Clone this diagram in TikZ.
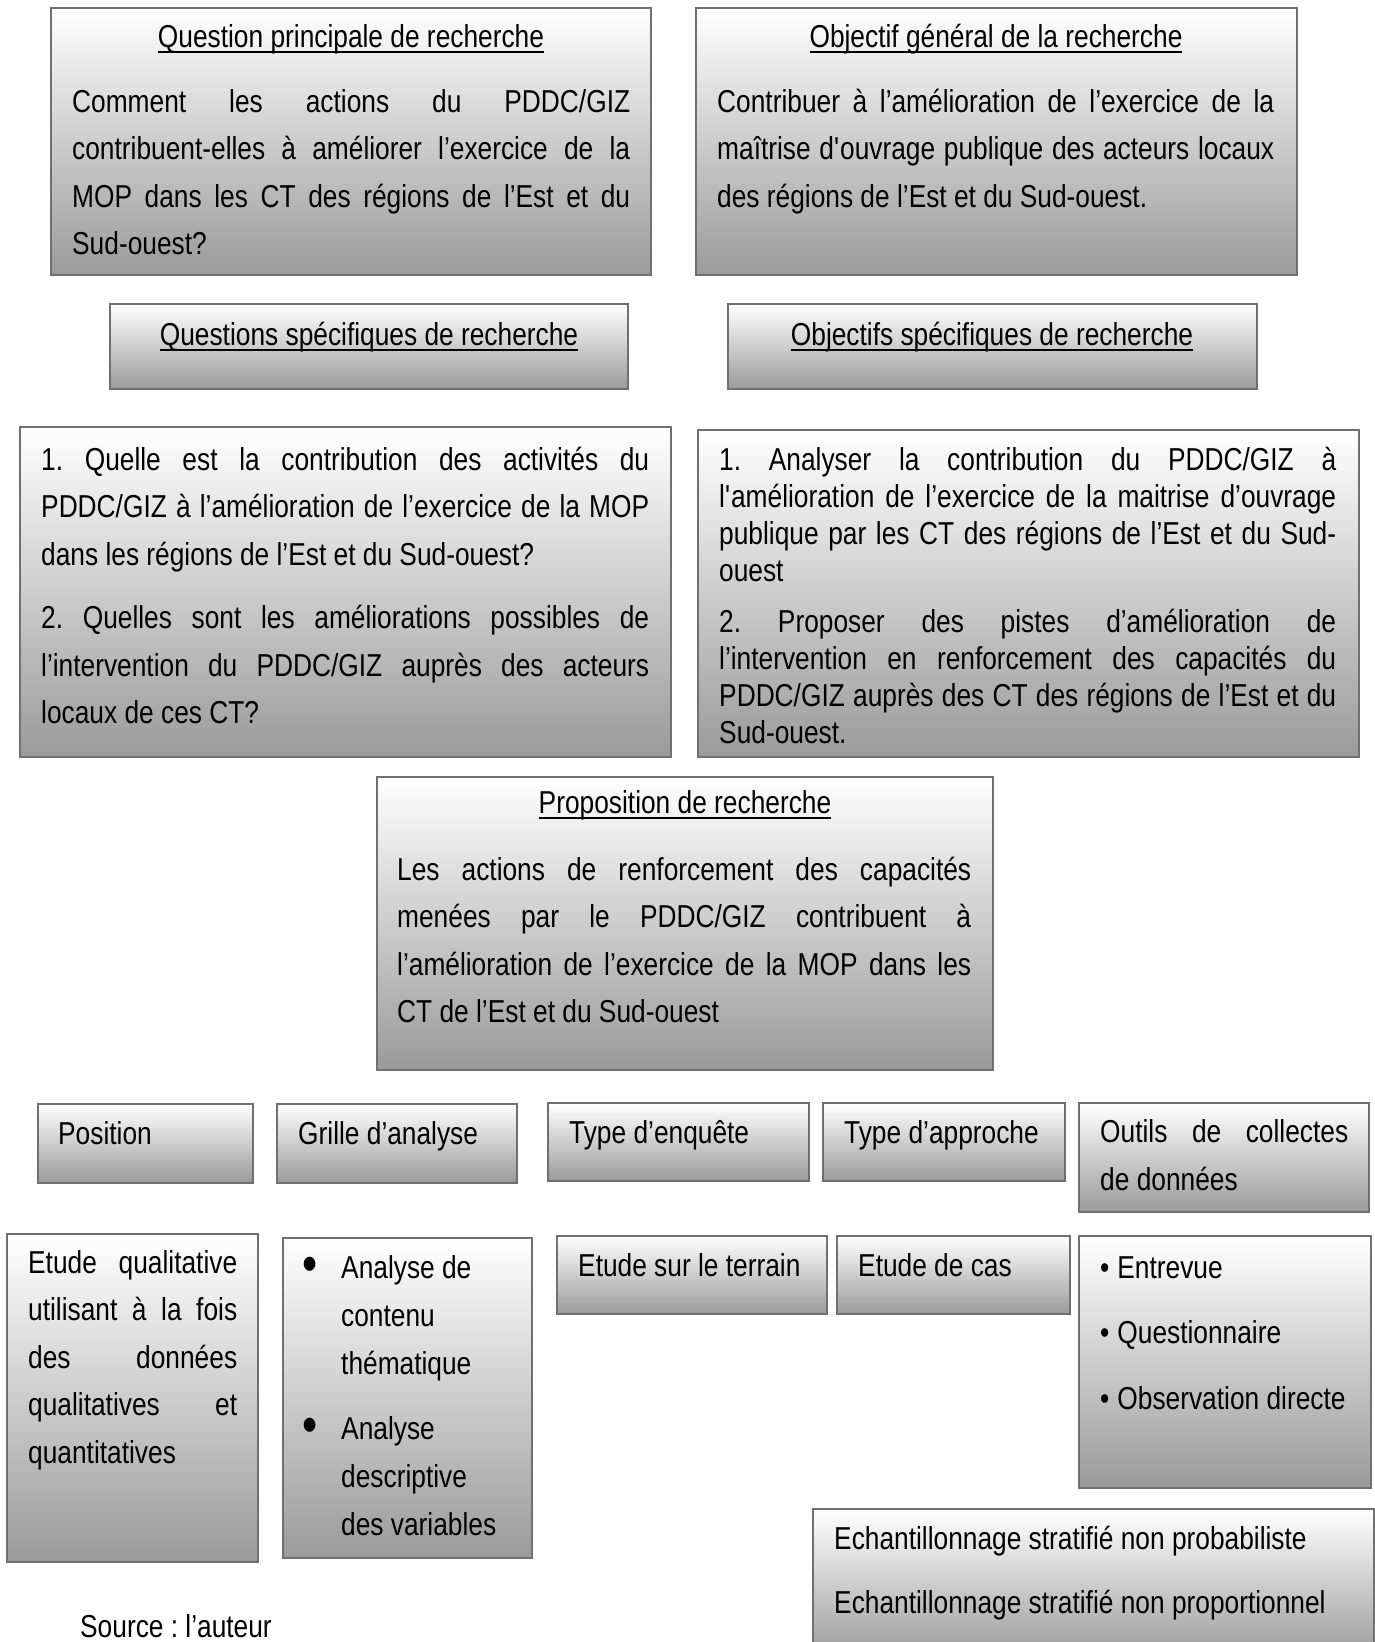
\documentclass[tikz,border=0pt]{standalone}
\usepackage{fontspec}
\setmainfont{Liberation Sans}[FakeStretch=0.83]
\frenchspacing
\definecolor{cadre}{HTML}{707070}
\definecolor{gris}{HTML}{9A9A9A}
\newcommand{\corps}{\fontsize{31.7}{47.5}\selectfont\tolerance=9999\hyphenpenalty=10000\relax}
\newsavebox{\soulbox}
\newcommand{\souligne}[1]{\sbox{\soulbox}{#1}\rlap{\rule[-6pt]{\wd\soulbox}{2pt}}\usebox{\soulbox}}
\newcommand{\boite}[5]{%
  \pgfmathsetmacro{\largb}{#4-#2}\pgfmathsetmacro{\hautb}{#5-#3}%
  \node[boite,minimum width=\largb pt,minimum height=\hautb pt,anchor=north west] (#1) at (#2,#3) {};}

\begin{document}
\begin{tikzpicture}[x=1pt,y=-1pt,
    boite/.style={draw=cadre,line width=2.5pt,top color=white,bottom color=gris,inner sep=0pt,outer sep=0pt},
    texte/.style={anchor=base west,inner sep=0pt,align=justify,font=\corps},
    titre/.style={anchor=base,inner sep=0pt,font=\corps},
    puce/.style={anchor=center,inner sep=0pt,font=\fontsize{52}{52}\selectfont}]
  \useasboundingbox (0,0) rectangle (1375,1642);
  % question et objectif generaux
  \boite{qp}{51}{8}{651}{275}
  \boite{og}{696}{8}{1297}{275}
  \node[titre] (qptitre) at (351,47) {\souligne{Question principale de recherche}};
  \node[titre] (ogtitre) at (996,47) {\souligne{Objectif général de la recherche}};
  \node[texte,text width=558pt] (qptexte) at (72,112) {Comment les actions du PDDC/GIZ\linebreak
    contribuent-elles à améliorer l’exercice de la\linebreak
    MOP dans les CT des régions de l’Est et du\linebreak Sud-ouest?};
  \node[texte,text width=557pt] (ogtexte) at (717,112) {Contribuer à l’amélioration de l’exercice de la\linebreak
    maîtrise d\textquotesingle ouvrage publique des acteurs locaux\linebreak
    des régions de l’Est et du Sud-ouest.};
  % titres specifiques
  \boite{qs}{110}{304}{628}{389}
  \boite{os}{728}{304}{1257}{389}
  \node[titre] (qstitre) at (369,345) {\souligne{Questions spécifiques de recherche}};
  \node[titre] (ostitre) at (992,345) {\souligne{Objectifs spécifiques de recherche}};
  % listes specifiques
  \boite{qsl}{20}{427}{671}{757}
  \boite{osl}{698}{430}{1359}{757}
  \node[texte,text width=608pt] (qsltexte) at (41,470) {1. Quelle est la contribution des activités du\linebreak
    PDDC/GIZ à l’amélioration de l’exercice de la MOP\linebreak
    dans les régions de l’Est et du Sud-ouest?\par\vspace{16pt}
    2. Quelles sont les améliorations possibles de\linebreak
    l’intervention du PDDC/GIZ auprès des acteurs\linebreak locaux de ces CT?};
  \node[texte,text width=617pt,font=\fontsize{31.7}{37}\selectfont] (osltexte) at (719,470) {1. Analyser la contribution du PDDC/GIZ à\linebreak
    l\textquotesingle amélioration de l’exercice de la maitrise d’ouvrage\linebreak
    publique par les CT des régions de l’Est et du Sud-\linebreak ouest\par\vspace{14pt}
    2. Proposer des pistes d’amélioration de\linebreak
    l’intervention en renforcement des capacités du\linebreak
    PDDC/GIZ auprès des CT des régions de l’Est et du\linebreak Sud-ouest.};
  % proposition
  \boite{pr}{377}{777}{993}{1070}
  \node[titre] (prtitre) at (685,813) {\souligne{Proposition de recherche}};
  \node[texte,text width=574pt] (prtexte) at (397,880) {Les actions de renforcement des capacités\linebreak
    menées par le PDDC/GIZ contribuent à\linebreak
    l’amélioration de l’exercice de la MOP dans les\linebreak CT de l’Est et du Sud-ouest};
  % en-tetes methodologie
  \boite{po}{38}{1104}{253}{1183}
  \boite{gr}{277}{1104}{517}{1183}
  \boite{te}{548}{1103}{809}{1181}
  \boite{ta}{823}{1103}{1065}{1181}
  \boite{oc}{1079}{1103}{1369}{1212}
  \node[texte] (potexte) at (58,1144) {Position};
  \node[texte] (grtexte) at (298,1144) {Grille d’analyse};
  \node[texte] (tetexte) at (569,1143) {Type d’enquête};
  \node[texte] (tatexte) at (844,1143) {Type d’approche};
  \node[texte,text width=248pt,font=\fontsize{31.7}{48}\selectfont] (octexte) at (1100,1142) {Outils de collectes\linebreak de données};
  % contenus
  \boite{eq}{7}{1234}{258}{1562}
  \boite{ga}{283}{1238}{532}{1558}
  \boite{et}{557}{1236}{827}{1314}
  \boite{ec}{837}{1236}{1070}{1314}
  \boite{ol}{1079}{1236}{1371}{1488}
  \boite{ech}{813}{1509}{1374}{1660}
  \node[texte,text width=209pt] (eqtexte) at (28,1273) {Etude qualitative\linebreak
    utilisant à la fois\linebreak des données\linebreak qualitatives et\linebreak quantitatives};
  \node[puce] (gapuce1) at (310,1269) {•};
  \node[puce] (gapuce2) at (310,1430) {•};
  \node[texte,text width=185pt,align=flush left,font=\fontsize{31.7}{48}\selectfont] (gatexte1) at (341,1278) {Analyse de\\contenu\\thématique};
  \node[texte,text width=185pt,align=flush left,font=\fontsize{31.7}{48}\selectfont] (gatexte2) at (341,1439) {Analyse\\descriptive\\des variables};
  \node[texte] (ettexte) at (578,1276) {Etude sur le terrain};
  \node[texte] (ectexte) at (858,1276) {Etude de cas};
  \node[texte,text width=265pt,align=flush left,font=\fontsize{31.7}{65.5}\selectfont] (oltexte) at (1100,1278)
    {•\hspace{8pt}Entrevue\\•\hspace{8pt}Questionnaire\\•\hspace{8pt}Observation directe};
  \node[texte,text width=540pt,align=flush left,font=\fontsize{31.7}{64}\selectfont] (echtexte) at (834,1549)
    {Echantillonnage stratifié non probabiliste\\Echantillonnage stratifié non proportionnel};
  \node[texte] (source) at (80,1637) {Source : l’auteur};
\end{tikzpicture}
\end{document}
